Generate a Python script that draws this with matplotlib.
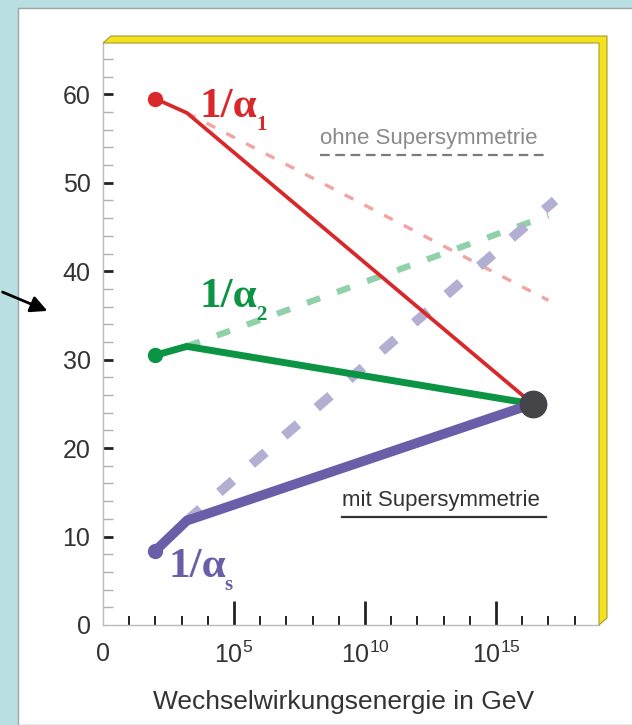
import matplotlib
matplotlib.use('Agg')
import matplotlib.pyplot as plt
from matplotlib.patches import Rectangle, Polygon

plt.rcParams['font.family'] = ['Liberation Sans', 'DejaVu Sans']
plt.rcParams['mathtext.fontset'] = 'custom'
plt.rcParams['mathtext.rm'] = 'Liberation Sans'
plt.rcParams['lines.scale_dashes'] = False

# x = log10(E / GeV), y = 1/alpha
x_start = [2.0, 3.2]            # M_Z and the kink
x_unif = 16.4                   # GUT point with SUSY
x_end_nosusy = [17.0, 17.0, 17.25]

a1_start = [59.5, 57.9]
a2_start = [30.5, 31.5]
a3_start = [8.4, 11.8]
a_unif = 25.0
a_nosusy = [36.7, 46.3, 48.0]   # 1/a1, 1/a2, 1/as without SUSY

xticks_major = [0, 5, 10, 15]
xtick_labels = ['0', r'$\mathregular{10^{5}}$', r'$\mathregular{10^{10}}$', r'$\mathregular{10^{15}}$']
xticks_minor = [i for i in range(1, 19) if i % 5 != 0]

red, pink = '#d8282a', '#f2a3a3'
green, lgreen = '#0b9444', '#8fd1a9'
purple, lav = '#6b5ea8', '#b3afd3'

fig = plt.figure(figsize=(6.32, 7.25), dpi=100)
fig.patch.set_facecolor('#b9dfe2')
fig.patches.append(Rectangle((18/632, 0), 1, 1 - 8/725, transform=fig.transFigure,
                             facecolor='white', edgecolor='#9aa6a8', lw=1, zorder=-1))

ax = fig.add_axes([103/632, 100/725, 496/632, 582/725])
ax.set_facecolor('none')
ax.set_xlim(0, 18.93)
ax.set_ylim(0, 65.8)

# ohne Supersymmetrie (dashed)
ax.plot([x_start[1], x_end_nosusy[0]], [a1_start[1], a_nosusy[0]], color=pink, lw=2.4, dashes=(7, 9))
ax.plot([x_start[1], x_end_nosusy[1]], [a2_start[1], a_nosusy[1]], color=lgreen, lw=4.5, dashes=(10, 13))
ax.plot([x_start[1], x_end_nosusy[2]], [a3_start[1], a_nosusy[2]], color=lav, lw=7, dashes=(13, 18))

# mit Supersymmetrie (solid)
ax.plot(x_start + [x_unif], a1_start + [a_unif], color=red, lw=2.7, solid_joinstyle='round')
ax.plot(x_start + [x_unif], a2_start + [a_unif], color=green, lw=5, solid_joinstyle='round')
ax.plot(x_start + [x_unif], a3_start + [a_unif], color=purple, lw=7, solid_joinstyle='round')
ax.plot(x_start[0], a1_start[0], 'o', color=red, ms=10)
ax.plot(x_start[0], a2_start[0], 'o', color=green, ms=10)
ax.plot(x_start[0], a3_start[0], 'o', color=purple, ms=10)
ax.plot(x_unif, a_unif, 'o', color='#454449', ms=19, zorder=5)

# labels 1/alpha
for (lx, ly, sub, c) in [(3.7, 57.4, '1', red), (3.7, 36.0, '2', green), (2.5, 5.4, 's', purple)]:
    t = ax.text(lx, ly, '1/α', color=c, fontsize=31, fontweight='bold',
                family=['Liberation Serif', 'DejaVu Serif'], va='baseline')
    ax.annotate(sub, xy=(1, 0), xycoords=t, xytext=(-1, -3), textcoords='offset points',
                color=c, fontsize=15, fontweight='bold', family=['Liberation Serif', 'DejaVu Serif'],
                va='baseline', ha='left')

ax.text(8.28, 55.0, 'ohne Supersymmetrie', color='#8a8a8a', fontsize=16, va='center')
ax.plot([8.28, 17.0], [53.1, 53.1], color='#7a7a7a', lw=1.6, dashes=(7, 4))
ax.text(9.12, 14.1, 'mit Supersymmetrie', color='#333333', fontsize=16, va='center')
ax.plot([9.12, 16.9], [12.2, 12.2], color='#333333', lw=1.6)

# axes
for s in ['top', 'right']:
    ax.spines[s].set_visible(False)
for s in ['left', 'bottom']:
    ax.spines[s].set_color('#bbbbbb')
    ax.spines[s].set_linewidth(1)

ax.set_xticks(xticks_major)
ax.set_xticklabels(xtick_labels)
ax.set_xticks(xticks_minor, minor=True)
ax.set_yticks(range(0, 61, 10))
ax.set_yticks(range(2, 66, 2), minor=True)
ax.tick_params(axis='x', which='major', direction='in', length=17, width=2, color='#222222',
               labelsize=18, labelcolor='#333333', pad=12)
ax.tick_params(axis='x', which='minor', direction='in', length=6.5, width=1.4, color='#222222')
ax.tick_params(axis='y', which='major', direction='in', length=7, width=2, color='#222222',
               labelsize=18, labelcolor='#333333', pad=9)
ax.tick_params(axis='y', which='minor', direction='in', length=7, width=1, color='#b0b0b0')
# no tick marks at the origin
ax.xaxis.get_major_ticks()[0].tick1line.set_visible(False)
ax.yaxis.get_major_ticks()[0].tick1line.set_visible(False)

ax.set_xlabel('Wechselwirkungsenergie in GeV', fontsize=19, color='#333333')
ax.xaxis.set_label_coords(0.484, -0.112)

# yellow frame on top and right
dx, dy = 8/496, 7/582
frame = Polygon([(0, 1), (dx, 1 + dy), (1 + dx, 1 + dy), (1 + dx, dy), (1, 0), (1, 1)],
                closed=True, transform=ax.transAxes, facecolor='#f3e21c', edgecolor='#a89a3a',
                lw=0.8, clip_on=False, zorder=6)
ax.add_patch(frame)

# arrow coming in from the left
ax.annotate('', xy=(50/632, 1 - 312/725), xytext=(0, 1 - 291/725),
            xycoords='figure fraction', textcoords='figure fraction',
            arrowprops=dict(arrowstyle='-|>', color='black', lw=2, mutation_scale=25))

fig.savefig('out.png', dpi=100, facecolor=fig.get_facecolor())
